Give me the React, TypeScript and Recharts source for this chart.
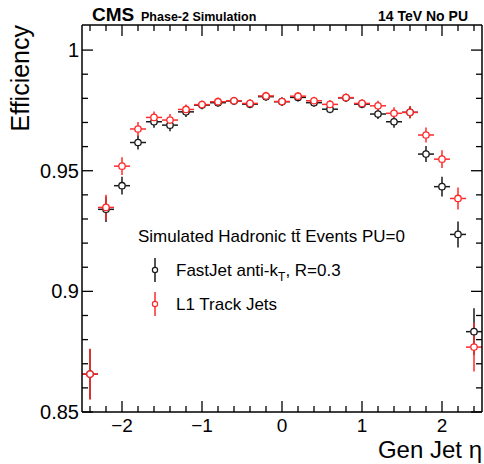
import { ScatterChart, Scatter, XAxis, YAxis, ErrorBar, Legend } from "recharts";

// bin centres in gen jet eta (bins of 0.2)
const etaBins = [
  -2.4, -2.2, -2.0, -1.8, -1.6, -1.4, -1.2, -1.0, -0.8, -0.6, -0.4, -0.2, 0.0,
  0.2, 0.4, 0.6, 0.8, 1.0, 1.2, 1.4, 1.6, 1.8, 2.0, 2.2, 2.4
];
const binHalfWidth = 0.1;

const fastjetEff = [
  0.8657, 0.934, 0.9438, 0.9617, 0.9703, 0.9689, 0.9744, 0.9772, 0.9782, 0.9789,
  0.9776, 0.9807, 0.9786, 0.9804, 0.9782, 0.9755, 0.9802, 0.9776, 0.9735, 0.9703,
  0.9742, 0.9569, 0.9434, 0.9236, 0.8833
];
const fastjetErr = [
  0.0104, 0.0052, 0.0037, 0.0029, 0.0025, 0.0025, 0.0021, 0.0017, 0.0017, 0.0017,
  0.0017, 0.0017, 0.0017, 0.0017, 0.0017, 0.0017, 0.0017, 0.0017, 0.0021, 0.0025,
  0.0025, 0.0033, 0.0041, 0.0054, 0.0097
];

const trackJetEff = [
  0.8657, 0.9348, 0.9519, 0.9673, 0.9721, 0.971, 0.9754, 0.9774, 0.9786, 0.979,
  0.9779, 0.981, 0.9787, 0.9809, 0.979, 0.9775, 0.9803, 0.9779, 0.9769, 0.9738,
  0.9742, 0.9648, 0.9548, 0.9385, 0.8769
];
const trackJetErr = [
  0.0105, 0.0052, 0.0037, 0.0029, 0.0025, 0.0025, 0.0021, 0.0017, 0.0017, 0.0017,
  0.0017, 0.0017, 0.0017, 0.0017, 0.0017, 0.0017, 0.0017, 0.0017, 0.0021, 0.0025,
  0.0025, 0.0031, 0.0037, 0.0046, 0.0101
];

const xTicks = [
  -2.4, -2.2, -2, -1.8, -1.6, -1.4, -1.2, -1, -0.8, -0.6, -0.4, -0.2, 0,
  0.2, 0.4, 0.6, 0.8, 1, 1.2, 1.4, 1.6, 1.8, 2, 2.2, 2.4
];
const xMajor = [-2, -1, 0, 1, 2];
const yTicks = [
  0.85, 0.86, 0.87, 0.88, 0.89, 0.9, 0.91, 0.92, 0.93, 0.94, 0.95, 0.96, 0.97,
  0.98, 0.99, 1
];
const yMajor = [0.85, 0.9, 0.95, 1];
const yLabels = ["0.85", "0.9", "0.95", "1"];

const legendHeader = "Simulated Hadronic tt\u0304 Events PU=0";

const FONT = "'Liberation Sans', Arial, Helvetica, sans-serif";
const BLACK = "#1a1a1a";
const RED = "#ff2a2a";

const fastjetData = etaBins.map((x, i) => ({ x, y: fastjetEff[i], ex: binHalfWidth, ey: fastjetErr[i] }));
const trackJetData = etaBins.map((x, i) => ({ x, y: trackJetEff[i], ex: binHalfWidth, ey: trackJetErr[i] }));

const isMajor = (v: number, list: number[]) => list.some((m) => Math.abs(m - v) < 1e-6);

const BottomTick = (props: any) => {
  const { x, y, payload } = props;
  const major = isMajor(payload.value, xMajor);
  const label = payload.value < 0 ? "\u2212" + Math.abs(payload.value) : String(payload.value);
  return (
    <g>
      <line x1={x} x2={x} y1={y} y2={y - (major ? 11 : 6)} stroke="#000" strokeWidth={1.3} />
      {major && (
        <text x={x} y={y + 20} textAnchor="middle" fontSize={19} fontFamily={FONT} fill="#000">
          {label}
        </text>
      )}
    </g>
  );
};

const TopTick = (props: any) => {
  const { x, y, payload } = props;
  const major = isMajor(payload.value, xMajor);
  return <line x1={x} x2={x} y1={y} y2={y + (major ? 11 : 6)} stroke="#000" strokeWidth={1.3} />;
};

const LeftTick = (props: any) => {
  const { x, y, payload } = props;
  const idx = yMajor.findIndex((m) => Math.abs(m - payload.value) < 1e-6);
  const major = idx >= 0;
  return (
    <g>
      <line x1={x} x2={x + (major ? 11 : 6)} y1={y} y2={y} stroke="#000" strokeWidth={1.3} />
      {major && (
        <text x={x - 3} y={y + 7} textAnchor="end" fontSize={20} fontFamily={FONT} fill="#000">
          {yLabels[idx]}
        </text>
      )}
    </g>
  );
};

const RightTick = (props: any) => {
  const { x, y, payload } = props;
  const major = isMajor(payload.value, yMajor);
  return <line x1={x} x2={x - (major ? 11 : 6)} y1={y} y2={y} stroke="#000" strokeWidth={1.3} />;
};

const makeMarker = (color: string) => (props: any) => {
  const { cx, cy } = props;
  return <circle cx={cx} cy={cy} r={3.2} fill="#fff" stroke={color} strokeWidth={1.3} />;
};

const LegendBox = (props: any) => {
  const payload = props.payload || [];
  return (
    <svg width={340} height={110} style={{ overflow: "visible" }}>
      <text x={8} y={24} fontSize={17} fontFamily={FONT} fill="#000">
        {legendHeader}
      </text>
      {payload.map((entry: any, i: number) => {
        const cy = 52 + i * 34;
        const color = entry.color;
        const parts = String(entry.value).split("_");
        return (
          <g key={i}>
            <line x1={25} x2={25} y1={cy - 12} y2={cy + 12} stroke={color} strokeWidth={1.5} />
            <circle cx={25} cy={cy} r={2.6} fill="#fff" stroke={color} strokeWidth={1.2} />
            <text x={46} y={cy + 6} fontSize={17} fontFamily={FONT} fill="#000">
              {parts[0]}
              {parts[1] !== undefined && (
                <>
                  <tspan fontSize={12} dy={5}>{parts[1].charAt(0)}</tspan>
                  <tspan dy={-5}>{parts[1].slice(1)}</tspan>
                </>
              )}
            </text>
          </g>
        );
      })}
    </svg>
  );
};

export default function App() {
  return (
    <div style={{ position: "absolute", left: 0, top: 0, width: 484, height: 464, background: "#fff" }}>
      <ScatterChart width={484} height={464} margin={{ top: 24, right: 1, bottom: 0, left: 0 }}>
        <XAxis
          xAxisId="b"
          type="number"
          dataKey="x"
          domain={[-2.5, 2.5]}
          ticks={xTicks}
          interval={0}
          allowDataOverflow
          height={52}
          tickSize={0}
          tickMargin={0}
          tickLine={false}
          tick={<BottomTick />}
          axisLine={{ stroke: "#000", strokeWidth: 1.5 }}
        />
        <XAxis
          xAxisId="t"
          orientation="top"
          type="number"
          dataKey="x"
          domain={[-2.5, 2.5]}
          ticks={xTicks}
          interval={0}
          allowDataOverflow
          height={1}
          tickSize={0}
          tickMargin={0}
          tickLine={false}
          tick={<TopTick />}
          axisLine={{ stroke: "#000", strokeWidth: 1.5 }}
        />
        <YAxis
          yAxisId="l"
          type="number"
          dataKey="y"
          domain={[0.85, 1.0104]}
          ticks={yTicks}
          interval={0}
          allowDataOverflow
          width={82}
          tickSize={0}
          tickMargin={0}
          tickLine={false}
          tick={<LeftTick />}
          axisLine={{ stroke: "#000", strokeWidth: 1.5 }}
        />
        <YAxis
          yAxisId="r"
          orientation="right"
          type="number"
          dataKey="y"
          domain={[0.85, 1.0104]}
          ticks={yTicks}
          interval={0}
          allowDataOverflow
          width={1}
          tickSize={0}
          tickMargin={0}
          tickLine={false}
          tick={<RightTick />}
          axisLine={{ stroke: "#000", strokeWidth: 1.5 }}
        />
        <Legend
          layout="vertical"
          align="center"
          verticalAlign="middle"
          content={<LegendBox />}
          wrapperStyle={{ position: "absolute", left: 130, top: 218, width: 340, height: 110 }}
        />
        <Scatter
          name="FastJet anti-k_T, R=0.3"
          data={fastjetData}
          xAxisId="b"
          yAxisId="l"
          fill={BLACK}
          shape={makeMarker(BLACK)}
          isAnimationActive={false}
        >
          <ErrorBar dataKey="ex" direction="x" width={0} stroke={BLACK} strokeWidth={1.5} />
          <ErrorBar dataKey="ey" direction="y" width={0} stroke={BLACK} strokeWidth={1.5} />
        </Scatter>
        <Scatter
          name="L1 Track Jets"
          data={trackJetData}
          xAxisId="b"
          yAxisId="l"
          fill={RED}
          shape={makeMarker(RED)}
          isAnimationActive={false}
        >
          <ErrorBar dataKey="ex" direction="x" width={0} stroke={RED} strokeWidth={1.5} />
          <ErrorBar dataKey="ey" direction="y" width={0} stroke={RED} strokeWidth={1.5} />
        </Scatter>
      </ScatterChart>
      <svg
        width={484}
        height={464}
        style={{ position: "absolute", left: 0, top: 0, pointerEvents: "none" }}
      >
        <text x={92} y={21} fontSize={19} fontWeight="bold" fontFamily={FONT} fill="#000">
          CMS
        </text>
        <text x={141} y={21} fontSize={12.5} fontWeight="bold" fontFamily={FONT} fill="#000">
          Phase-2 Simulation
        </text>
        <text x={468} y={21} textAnchor="end" fontSize={14} fontWeight="bold" fontFamily={FONT} fill="#000">
          14 TeV No PU
        </text>
        <text
          x={0}
          y={0}
          transform="translate(29,25) rotate(-90)"
          textAnchor="end"
          fontSize={25}
          fontFamily={FONT}
          fill="#000"
        >
          Efficiency
        </text>
        <text x={482} y={458} textAnchor="end" fontSize={24} fontFamily={FONT} fill="#000">
          Gen Jet {"\u03b7"}
        </text>
      </svg>
    </div>
  );
}
